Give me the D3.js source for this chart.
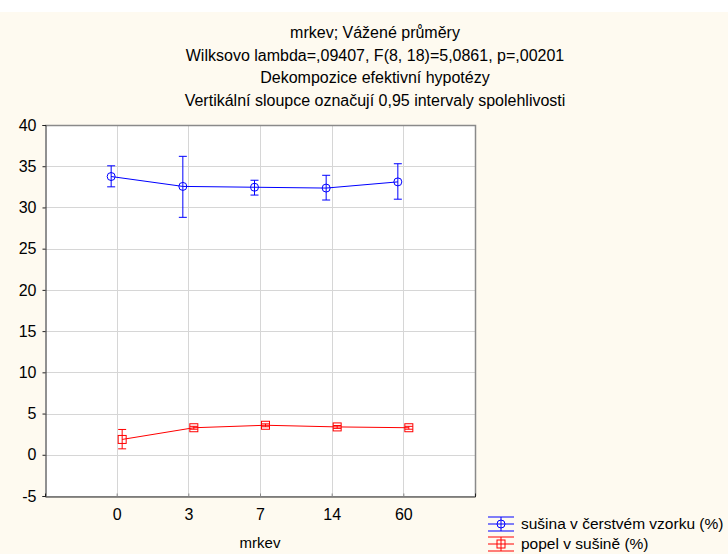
<!doctype html>
<html>
<head>
<meta charset="utf-8">
<script src="https://cdn.jsdelivr.net/npm/d3@7/dist/d3.min.js"></script>
<style>
  body { margin: 0; background: #fff; }
  text { font-family: "Liberation Sans", Arial, sans-serif; fill: #000; }
</style>
</head>
<body>
<svg id="chart"></svg>
<script>
var categories = ["0", "3", "7", "14", "60"];
var susinaMean = [33.75, 32.55, 32.45, 32.35, 33.1];
var susinaLow  = [32.5, 28.8, 31.5, 30.9, 31.0];
var susinaHigh = [35.05, 36.2, 33.3, 33.9, 35.3];
var popelMean = [1.86, 3.28, 3.58, 3.38, 3.28];
var popelLow  = [0.72, 3.1, 3.4, 3.2, 3.1];
var popelHigh = [3.07, 3.45, 3.75, 3.55, 3.45];
var yTicks = [-5, 0, 5, 10, 15, 20, 25, 30, 35, 40];
var titles = ["mrkev; Vážené průměry",
              "Wilksovo lambda=,09407, F(8, 18)=5,0861, p=,00201",
              "Dekompozice efektivní hypotézy",
              "Vertikální sloupce označují 0,95 intervaly spolehlivosti"];
var xTitle = "mrkev";
var seriesNames = ["sušina v čerstvém vzorku (%)", "popel v sušině (%)"];

var width = 728, height = 554;
var plot = {left: 45, top: 125, right: 475, bottom: 496};

var svg = d3.select("#chart").attr("width", width).attr("height", height);

svg.append("rect").attr("x", 0).attr("y", 12).attr("width", width).attr("height", height - 12)
   .attr("fill", "#fefaf0");

var x = d3.scalePoint().domain(categories).range([plot.left, plot.right]).padding(1);
var y = d3.scaleLinear().domain([-5, 40]).range([plot.bottom, plot.top]);

// titles
svg.selectAll("text.title").data(titles).enter().append("text")
   .attr("class", "title")
   .attr("x", 375)
   .attr("y", (d, i) => 38 + i * 22.7)
   .attr("text-anchor", "middle")
   .style("font-size", "16px")
   .text(d => d);

svg.append("rect").attr("x", plot.left).attr("y", plot.top)
   .attr("width", plot.right - plot.left).attr("height", plot.bottom - plot.top)
   .attr("fill", "#fff");

// grid
var grid = svg.append("g").attr("stroke", "#d6d6d6").attr("stroke-width", 1);
grid.selectAll("line.h").data(yTicks).enter().append("line")
    .attr("x1", plot.left).attr("x2", plot.right)
    .attr("y1", d => Math.round(y(d)) + 0.5).attr("y2", d => Math.round(y(d)) + 0.5);
grid.selectAll("line.v").data(categories).enter().append("line")
    .attr("y1", plot.top).attr("y2", plot.bottom)
    .attr("x1", d => Math.round(x(d)) + 0.5).attr("x2", d => Math.round(x(d)) + 0.5);

// frame: top/right gray
svg.append("path")
   .attr("d", "M" + plot.left + "," + (plot.top + 0.5) + "H" + (plot.right + 0.5) + "V" + plot.bottom)
   .attr("fill", "none").attr("stroke", "#8a8a8a").attr("stroke-width", 1.5);

// axes
var yAxis = d3.axisLeft(y).tickValues(yTicks).tickSize(3).tickPadding(6).tickFormat(d => String(d));
var yg = svg.append("g").attr("transform", "translate(" + (plot.left + 0.5) + ",0)").call(yAxis);
yg.select(".domain").attr("stroke", "#222");
yg.selectAll(".tick line").attr("stroke", "#222");
yg.selectAll("text").style("font-size", "16px").attr("font-family", null);

var xAxis = d3.axisBottom(x).tickSize(-3).tickPadding(12);
var xg = svg.append("g").attr("transform", "translate(0," + (plot.bottom + 0.5) + ")").call(xAxis);
xg.select(".domain").attr("stroke", "#222");
xg.selectAll(".tick line").attr("stroke", "#888");
xg.selectAll("text").style("font-size", "16px").attr("font-family", null);

svg.append("text").attr("x", (plot.left + plot.right) / 2).attr("y", 548)
   .attr("text-anchor", "middle").style("font-size", "15px").text(xTitle);

function drawSeries(mean, lo, hi, color, dx, marker) {
  var idx = d3.range(categories.length);
  var px = i => x(categories[i]) + dx;
  var g = svg.append("g");
  g.append("path").datum(idx)
   .attr("d", d3.line().x(px).y(i => y(mean[i])))
   .attr("fill", "none").attr("stroke", color).attr("stroke-width", 1);
  var eb = g.selectAll("g.eb").data(idx).enter().append("g").attr("stroke", color).attr("fill", "none");
  eb.append("line").attr("x1", px).attr("x2", px).attr("y1", i => y(lo[i])).attr("y2", i => y(hi[i]));
  eb.append("line").attr("x1", i => px(i) - 4).attr("x2", i => px(i) + 4).attr("y1", i => y(lo[i])).attr("y2", i => y(lo[i]));
  eb.append("line").attr("x1", i => px(i) - 4).attr("x2", i => px(i) + 4).attr("y1", i => y(hi[i])).attr("y2", i => y(hi[i]));
  if (marker === "circle") {
    eb.append("circle").attr("cx", px).attr("cy", i => y(mean[i])).attr("r", 4);
  } else {
    eb.append("rect").attr("x", i => px(i) - 4).attr("y", i => y(mean[i]) - 4).attr("width", 8).attr("height", 8);
  }
}
drawSeries(susinaMean, susinaLow, susinaHigh, "#0000ff", -5.5, "circle");
drawSeries(popelMean, popelLow, popelHigh, "#ff0000", 5.5, "square");

// legend
var legend = svg.append("g");
var lg = legend.selectAll("g").data(seriesNames).enter().append("g")
   .attr("transform", (d, i) => "translate(488," + (524 + i * 20) + ")")
   .attr("stroke", (d, i) => i === 0 ? "#0000ff" : "#ff0000").attr("fill", "none");
lg.append("line").attr("x1", 0).attr("x2", 26).attr("y1", 0).attr("y2", 0);
lg.append("line").attr("x1", 0).attr("x2", 26).attr("y1", -7).attr("y2", -7);
lg.append("line").attr("x1", 0).attr("x2", 26).attr("y1", 7).attr("y2", 7);
lg.append("line").attr("x1", 13).attr("x2", 13).attr("y1", -7).attr("y2", 7);
lg.filter((d, i) => i === 0).append("circle").attr("cx", 13).attr("cy", 0).attr("r", 4);
lg.filter((d, i) => i === 1).append("rect").attr("x", 9).attr("y", -4).attr("width", 8).attr("height", 8);
lg.append("text").attr("x", 33).attr("y", 5).attr("stroke", "none")
  .style("font-size", "15.5px").text(d => d);
</script>
</body>
</html>
